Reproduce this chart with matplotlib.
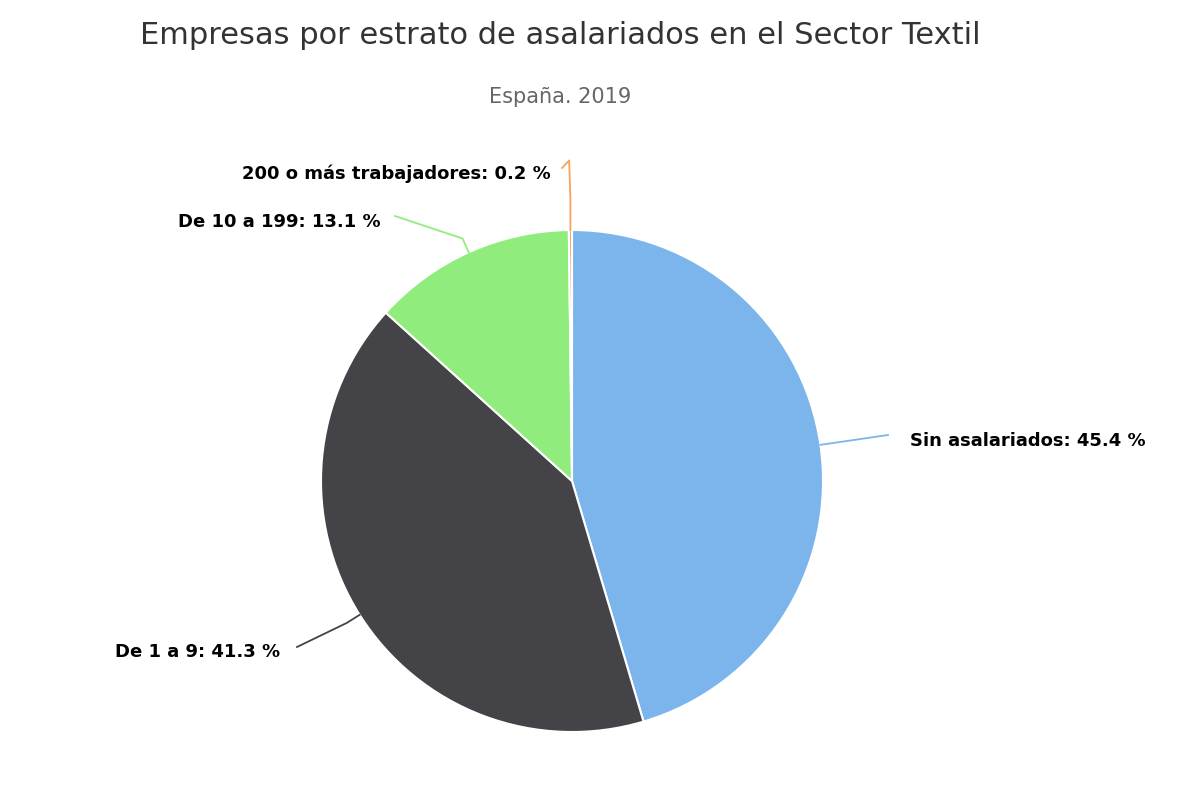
import matplotlib
matplotlib.use("Agg")
import matplotlib.pyplot as plt
import numpy as np

categories = ["Sin asalariados", "De 1 a 9", "De 10 a 199", "200 o más trabajadores"]
values = [45.4, 41.3, 13.1, 0.2]
colors = ["#7cb5ec", "#434348", "#90ed7d", "#f7a35c"]

W, H = 1200, 800
fig = plt.figure(figsize=(12, 8), dpi=100)
cx, cy, R = 572, 481, 251
ax = fig.add_axes([(cx - R) / W, (H - cy - R) / H, 2 * R / W, 2 * R / H])
ax.pie(values, colors=colors, startangle=90, counterclock=False, radius=1,
       wedgeprops=dict(edgecolor="white", linewidth=1.5))
ax.set_xlim(-1, 1); ax.set_ylim(-1, 1); ax.set_aspect("equal"); ax.axis("off")

def d(px, py):
    return ((px - cx) / R, (cy - py) / R)

# label anchor positions (pixels): (elbow point, text point, ha)
anchors = [((888, 435), (910, 441), "left"),
           ((297, 647), (280, 652), "right"),
           ((395, 216), (381, 222), "right"),
           ((562, 168), (551, 174), "right")]

cum = np.cumsum([0] + values[:-1])
for i, (cat, v) in enumerate(zip(categories, values)):
    ang = np.deg2rad(90 - (cum[i] + v / 2) * 3.6)
    ex, ey = np.cos(ang), np.sin(ang)
    (lx, ly), (tx, ty), ha = anchors[i]
    lx, ly = d(lx, ly); tx, ty = d(tx, ty)
    if i == 3:
        xs = [ex, ex, ex - 0.005, lx]; ys = [ey, ey + 0.12, ly + 0.03, ly]
    else:
        ox, oy = ex + 0.06 * np.cos(ang), ey + 0.06 * np.sin(ang)
        xs = [ex, ox, lx]; ys = [ey, oy, ly]
    ax.plot(xs, ys, color=colors[i], lw=1.3, clip_on=False)
    ax.text(tx, ty, f"{cat}: {v} %", ha=ha, va="center", fontsize=13,
            fontweight="bold", color="black", clip_on=False)

fig.text(560 / W, 1 - 35 / H, "Empresas por estrato de asalariados en el Sector Textil",
         ha="center", va="center", fontsize=22, color="#333333")
fig.text(560 / W, 1 - 97 / H, "España. 2019", ha="center", va="center",
         fontsize=15, color="#666666")
fig.savefig("out.png", dpi=100, facecolor="white")
